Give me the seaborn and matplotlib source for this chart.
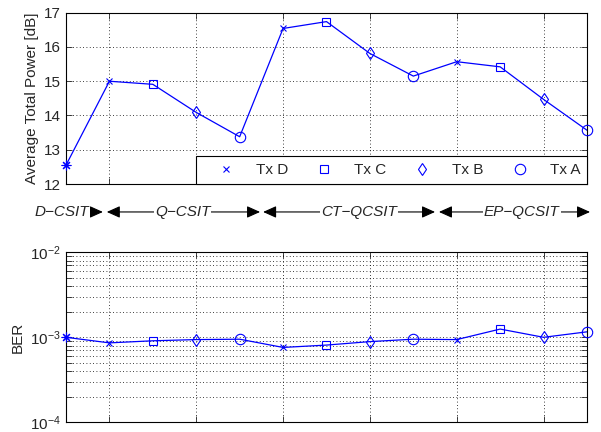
import matplotlib
matplotlib.use("Agg")
import numpy as np
import pandas as pd
import matplotlib.pyplot as plt
import matplotlib.transforms as mtransforms
from matplotlib.lines import Line2D
import seaborn as sns

# values
point_index = list(range(13))
tx_label = ["All", "Tx D", "Tx C", "Tx B", "Tx A",
            "Tx D", "Tx C", "Tx B", "Tx A",
            "Tx D", "Tx C", "Tx B", "Tx A"]
power_db = [12.55, 15.0, 14.91, 14.09, 13.38, 16.54, 16.74,
            15.81, 15.15, 15.57, 15.42, 14.47, 13.57]
ber = [1.0e-3, 8.6e-4, 9.1e-4, 9.4e-4, 9.5e-4, 7.6e-4, 8.1e-4,
       8.9e-4, 9.5e-4, 9.4e-4, 1.25e-3, 1.0e-3, 1.16e-3]
legend_order = ["Tx D", "Tx C", "Tx B", "Tx A"]
schemes = ["D\u2212CSIT", "Q\u2212CSIT", "CT\u2212QCSIT", "EP\u2212QCSIT"]
power_ticks = [12, 13, 14, 15, 16, 17]
ber_ticks = [1e-4, 1e-3, 1e-2]

df = pd.DataFrame({"idx": point_index, "tx": tx_label,
                   "power": power_db, "ber": ber})

sns.set_style("ticks")
plt.rcParams["font.family"] = ["Liberation Sans", "DejaVu Sans"]
plt.rcParams.update({
    "font.size": 11,
    "xtick.direction": "in",
    "ytick.direction": "in",
    "xtick.top": True,
    "ytick.right": True,
    "axes.linewidth": 0.8,
    "axes.edgecolor": "black",
})

marker_map = {"All": (8, 2, 0), "Tx D": "x", "Tx C": "s", "Tx B": "d", "Tx A": "o"}
size_map = {"All": 7, "Tx D": 5, "Tx C": 6, "Tx B": 6.5, "Tx A": 7.5}
grid_kw = dict(color="black", linestyle=(0, (1, 3)), linewidth=0.6)

fig = plt.figure(figsize=(6.01, 4.32), dpi=100)
ax_top = fig.add_axes([0.1098, 0.574, 0.8669, 0.3966])
ax_bot = fig.add_axes([0.1098, 0.0225, 0.8669, 0.3934])


def draw_series(ax, col):
    sns.lineplot(data=df, x="idx", y=col, ax=ax, color="blue",
                 linewidth=0.9, legend=False)
    for t, m in marker_map.items():
        sub = df[df["tx"] == t]
        ax.plot(sub["idx"], sub[col], linestyle="none", marker=m,
                markersize=size_map[t], markerfacecolor="none",
                markeredgecolor="blue", markeredgewidth=0.8, clip_on=False,
                zorder=3)
    ax.set_xlim(0, 12)
    ax.set_xticks([1, 3, 5, 7, 9, 11])
    ax.set_xticklabels([])
    ax.set_xlabel("")
    ax.tick_params(axis="both", which="both", length=4, width=0.6,
                   labelsize=11)


# top panel: average total power
draw_series(ax_top, "power")
ax_top.set_ylim(12, 17)
ax_top.set_yticks(power_ticks)
ax_top.set_ylabel("Average Total Power [dB]", fontsize=11)
ax_top.grid(True, **grid_kw)

handles = [Line2D([], [], linestyle="none", marker=marker_map[t],
                  markersize=size_map[t], markerfacecolor="none",
                  markeredgecolor="blue", markeredgewidth=0.8)
           for t in legend_order]
leg = ax_top.legend(handles, legend_order, ncol=4, loc="lower right",
                    borderaxespad=0, fancybox=False, framealpha=1,
                    edgecolor="black", handlelength=3.0, handletextpad=0.46,
                    columnspacing=0.85, borderpad=0.45, fontsize=11)
leg.get_frame().set_linewidth(0.8)

# scheme arrows below the top panel
trans = mtransforms.blended_transform_factory(ax_top.transData, ax_top.transAxes)
arrow_y = -0.163
arrow_left = [-0.1, 0.94, 4.54, 8.59]
arrow_right = [0.85, 4.47, 8.5, 12.07]
text_center = [-0.09, 2.69, 6.75, 10.5]
for i, name in enumerate(schemes):
    style = "-|>" if i == 0 else "<|-|>"
    ax_top.annotate("", xy=(arrow_right[i], arrow_y), xytext=(arrow_left[i], arrow_y),
                    xycoords=trans, textcoords=trans, annotation_clip=False,
                    arrowprops=dict(arrowstyle=style + ",head_length=0.4,head_width=0.18",
                                    mutation_scale=20, color="black", lw=0.8,
                                    shrinkA=0, shrinkB=0))
    ax_top.text(text_center[i], arrow_y, name, transform=trans, ha="center",
                va="center", style="italic", fontsize=11, zorder=5,
                bbox=dict(facecolor="white", edgecolor="none", pad=0.5))

# bottom panel: BER
draw_series(ax_bot, "ber")
ax_bot.set_yscale("log")
ax_bot.set_ylim(1e-4, 1e-2)
ax_bot.set_yticks(ber_ticks)
ax_bot.set_ylabel("BER", fontsize=11)
ax_bot.grid(True, which="major", **grid_kw)
ax_bot.grid(True, which="minor", axis="y", **grid_kw)

fig.savefig("out.png", dpi=100)
